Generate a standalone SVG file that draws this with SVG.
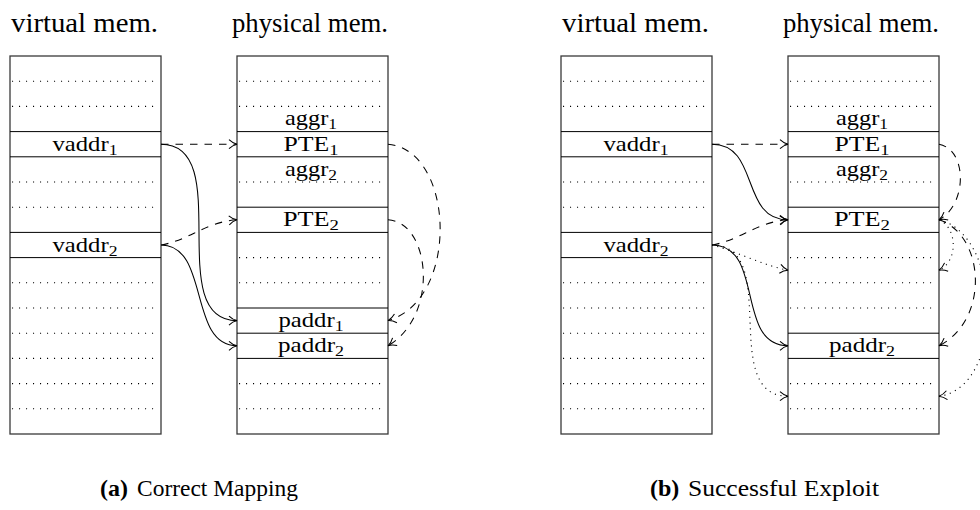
<svg xmlns="http://www.w3.org/2000/svg" width="980" height="510" viewBox="0 0 980 510">
<style>
  .box { fill: #ffffff; stroke: #3a3a3a; stroke-width: 1.3; }
  .sep { stroke: #000000; stroke-width: 1; fill: none; }
  .dot { stroke: #000000; stroke-width: 1.1; stroke-dasharray: 1.1 5.9; fill: none; }
  text { font-family: "Liberation Serif", "DejaVu Serif", serif; fill: #000; }
  .title { font-size: 27px; }
  .lbl { font-size: 21px; text-anchor: middle; }
  .sub { font-size: 15px; }
  .cap { font-size: 24px; }
  .capb { font-weight: bold; }
  .solid { fill: none; stroke: #000; stroke-width: 1.05; }
  .dashed { fill: none; stroke: #000; stroke-width: 1.05; stroke-dasharray: 7.5 7; }
  .dotted { fill: none; stroke: #000; stroke-width: 1.1; stroke-dasharray: 1.1 4.6; }
</style>
<defs>
  <marker id="arr" viewBox="-10 -6 12 12" markerWidth="12" markerHeight="12" refX="0" refY="0" orient="auto" markerUnits="userSpaceOnUse">
    <path d="M-8,-4.5 C-5,-1.6 -2.2,-0.5 0,0 C-2.2,0.5 -5,1.6 -8,4.5" fill="none" stroke="#000" stroke-width="1.05" stroke-dasharray="none"/>
  </marker>
</defs>

<!-- Titles -->
<text class="title" font-family="Liberation Serif, serif" x="11" y="32" textLength="147" lengthAdjust="spacingAndGlyphs">virtual mem.</text>
<text class="title" font-family="Liberation Serif, serif" x="232" y="32" textLength="156" lengthAdjust="spacingAndGlyphs">physical mem.</text>
<text class="title" font-family="Liberation Serif, serif" x="562" y="32" textLength="147" lengthAdjust="spacingAndGlyphs">virtual mem.</text>
<text class="title" font-family="Liberation Serif, serif" x="783" y="32" textLength="156" lengthAdjust="spacingAndGlyphs">physical mem.</text>

<!-- (a) virtual memory -->
<g id="virt-a">
  <rect class="box" x="10" y="56" width="151" height="378"/>
  <g class="dot">
    <line x1="12" y1="81.2" x2="159" y2="81.2"/>
    <line x1="12" y1="106.4" x2="159" y2="106.4"/>
    <line x1="12" y1="182" x2="159" y2="182"/>
    <line x1="12" y1="207.2" x2="159" y2="207.2"/>
    <line x1="12" y1="282.8" x2="159" y2="282.8"/>
    <line x1="12" y1="308" x2="159" y2="308"/>
    <line x1="12" y1="333.2" x2="159" y2="333.2"/>
    <line x1="12" y1="358.4" x2="159" y2="358.4"/>
    <line x1="12" y1="383.6" x2="159" y2="383.6"/>
    <line x1="12" y1="408.8" x2="159" y2="408.8"/>
  </g>
  <g class="sep">
    <line x1="10" y1="131.6" x2="161" y2="131.6"/>
    <line x1="10" y1="156.8" x2="161" y2="156.8"/>
    <line x1="10" y1="232.4" x2="161" y2="232.4"/>
    <line x1="10" y1="257.6" x2="161" y2="257.6"/>
  </g>
  <text class="lbl" x="85" y="150.7" textLength="65" lengthAdjust="spacingAndGlyphs">vaddr<tspan class="sub" dy="4">1</tspan></text>
  <text class="lbl" x="85" y="251.5" textLength="65" lengthAdjust="spacingAndGlyphs">vaddr<tspan class="sub" dy="4">2</tspan></text>
</g>

<!-- (a) physical memory -->
<g id="phys-a">
  <rect class="box" x="237" y="56" width="151" height="378"/>
  <g class="dot">
    <line x1="239" y1="81.2" x2="386" y2="81.2"/>
    <line x1="239" y1="106.4" x2="386" y2="106.4"/>
    <line x1="239" y1="182" x2="386" y2="182"/>
    <line x1="239" y1="257.6" x2="386" y2="257.6"/>
    <line x1="239" y1="282.8" x2="386" y2="282.8"/>
    <line x1="239" y1="383.6" x2="386" y2="383.6"/>
    <line x1="239" y1="408.8" x2="386" y2="408.8"/>
  </g>
  <g class="sep">
    <line x1="237" y1="131.6" x2="388" y2="131.6"/>
    <line x1="237" y1="156.8" x2="388" y2="156.8"/>
    <line x1="237" y1="207.2" x2="388" y2="207.2"/>
    <line x1="237" y1="232.4" x2="388" y2="232.4"/>
    <line x1="237" y1="308" x2="388" y2="308"/>
    <line x1="237" y1="333.2" x2="388" y2="333.2"/>
    <line x1="237" y1="358.4" x2="388" y2="358.4"/>
  </g>
  <text class="lbl" x="311" y="125.3" textLength="52" lengthAdjust="spacingAndGlyphs">aggr<tspan class="sub" dy="4">1</tspan></text>
  <text class="lbl" x="311" y="150.7" textLength="55" lengthAdjust="spacingAndGlyphs">PTE<tspan class="sub" dy="4">1</tspan></text>
  <text class="lbl" x="311" y="175.9" textLength="52" lengthAdjust="spacingAndGlyphs">aggr<tspan class="sub" dy="4">2</tspan></text>
  <text class="lbl" x="311" y="226.3" textLength="56" lengthAdjust="spacingAndGlyphs">PTE<tspan class="sub" dy="4">2</tspan></text>
  <text class="lbl" x="311" y="327.1" textLength="65" lengthAdjust="spacingAndGlyphs">paddr<tspan class="sub" dy="4">1</tspan></text>
  <text class="lbl" x="311" y="352.3" textLength="66" lengthAdjust="spacingAndGlyphs">paddr<tspan class="sub" dy="4">2</tspan></text>
</g>

<!-- (b) virtual memory -->
<g id="virt-b">
  <rect class="box" x="561" y="56" width="151" height="378"/>
  <g class="dot">
    <line x1="563" y1="81.2" x2="710" y2="81.2"/>
    <line x1="563" y1="106.4" x2="710" y2="106.4"/>
    <line x1="563" y1="182" x2="710" y2="182"/>
    <line x1="563" y1="207.2" x2="710" y2="207.2"/>
    <line x1="563" y1="282.8" x2="710" y2="282.8"/>
    <line x1="563" y1="308" x2="710" y2="308"/>
    <line x1="563" y1="333.2" x2="710" y2="333.2"/>
    <line x1="563" y1="358.4" x2="710" y2="358.4"/>
    <line x1="563" y1="383.6" x2="710" y2="383.6"/>
    <line x1="563" y1="408.8" x2="710" y2="408.8"/>
  </g>
  <g class="sep">
    <line x1="561" y1="131.6" x2="712" y2="131.6"/>
    <line x1="561" y1="156.8" x2="712" y2="156.8"/>
    <line x1="561" y1="232.4" x2="712" y2="232.4"/>
    <line x1="561" y1="257.6" x2="712" y2="257.6"/>
  </g>
  <text class="lbl" x="636" y="150.7" textLength="65" lengthAdjust="spacingAndGlyphs">vaddr<tspan class="sub" dy="4">1</tspan></text>
  <text class="lbl" x="636" y="251.5" textLength="65" lengthAdjust="spacingAndGlyphs">vaddr<tspan class="sub" dy="4">2</tspan></text>
</g>

<!-- (b) physical memory -->
<g id="phys-b">
  <rect class="box" x="788" y="56" width="151" height="378"/>
  <g class="dot">
    <line x1="790" y1="81.2" x2="937" y2="81.2"/>
    <line x1="790" y1="106.4" x2="937" y2="106.4"/>
    <line x1="790" y1="182" x2="937" y2="182"/>
    <line x1="790" y1="257.6" x2="937" y2="257.6"/>
    <line x1="790" y1="282.8" x2="937" y2="282.8"/>
    <line x1="790" y1="308" x2="937" y2="308"/>
    <line x1="790" y1="383.6" x2="937" y2="383.6"/>
    <line x1="790" y1="408.8" x2="937" y2="408.8"/>
  </g>
  <g class="sep">
    <line x1="788" y1="131.6" x2="939" y2="131.6"/>
    <line x1="788" y1="156.8" x2="939" y2="156.8"/>
    <line x1="788" y1="207.2" x2="939" y2="207.2"/>
    <line x1="788" y1="232.4" x2="939" y2="232.4"/>
    <line x1="788" y1="333.2" x2="939" y2="333.2"/>
    <line x1="788" y1="358.4" x2="939" y2="358.4"/>
  </g>
  <text class="lbl" x="862" y="125.3" textLength="52" lengthAdjust="spacingAndGlyphs">aggr<tspan class="sub" dy="4">1</tspan></text>
  <text class="lbl" x="862" y="150.7" textLength="55" lengthAdjust="spacingAndGlyphs">PTE<tspan class="sub" dy="4">1</tspan></text>
  <text class="lbl" x="862" y="175.9" textLength="52" lengthAdjust="spacingAndGlyphs">aggr<tspan class="sub" dy="4">2</tspan></text>
  <text class="lbl" x="862" y="226.3" textLength="56" lengthAdjust="spacingAndGlyphs">PTE<tspan class="sub" dy="4">2</tspan></text>
  <text class="lbl" x="862" y="352.3" textLength="66" lengthAdjust="spacingAndGlyphs">paddr<tspan class="sub" dy="4">2</tspan></text>
</g>

<!-- Connectors -->
<g id="connectors">
  <!-- (a) -->
  <path class="dashed" d="M161,144.2 L237,144.2" marker-end="url(#arr)"/>
  <path class="solid" d="M161,144.2 C236,144.2 162,320.6 237,320.6" marker-end="url(#arr)"/>
  <path class="dashed" d="M161,245 C190,240 205,222 237,219.8" marker-end="url(#arr)"/>
  <path class="solid" d="M161,245 C210,245 188,345.8 237,345.8" marker-end="url(#arr)"/>
  <path class="dashed" d="M388,144.2 C455,150 460,300 388,320.6" marker-end="url(#arr)"/>
  <path class="dashed" d="M388,219.8 C430,222 440,315 388,345.8" marker-end="url(#arr)"/>
  <!-- (b) -->
  <path class="dashed" d="M712,144.2 L788,144.2" marker-end="url(#arr)"/>
  <path class="solid" d="M712,144.2 C760,144.2 740,219.8 788,219.8" marker-end="url(#arr)"/>
  <path class="dashed" d="M712,245 C741,240 756,222 788,219.8" marker-end="url(#arr)"/>
  <path class="dotted" d="M712,245 C735,251 765,266 788,270.2" marker-end="url(#arr)"/>
  <path class="solid" d="M712,245 C765,245 735,345.8 788,345.8" marker-end="url(#arr)"/>
  <path class="dotted" d="M712,245 C782,245 718,396.2 788,396.2" marker-end="url(#arr)"/>
  <path class="dashed" d="M939,144.2 C968,150 967,205 939,219.8" marker-end="url(#arr)"/>
  <path class="dotted" d="M939,219.8 C958,228 958,262 939,270.2" marker-end="url(#arr)"/>
  <path class="dashed" d="M939,219.8 C985,235 990,320 939,345.8" marker-end="url(#arr)"/>
  <path class="dotted" d="M939,219.8 C1003,235 1005,388 939,396.2" marker-end="url(#arr)"/>
</g>

<!-- Captions -->
<text class="cap capb" x="100" y="496">(a)</text>
<text class="cap" x="137" y="496" textLength="161" lengthAdjust="spacingAndGlyphs">Correct Mapping</text>
<text class="cap capb" x="650" y="496">(b)</text>
<text class="cap" x="688" y="496" textLength="191" lengthAdjust="spacingAndGlyphs">Successful Exploit</text>
</svg>
